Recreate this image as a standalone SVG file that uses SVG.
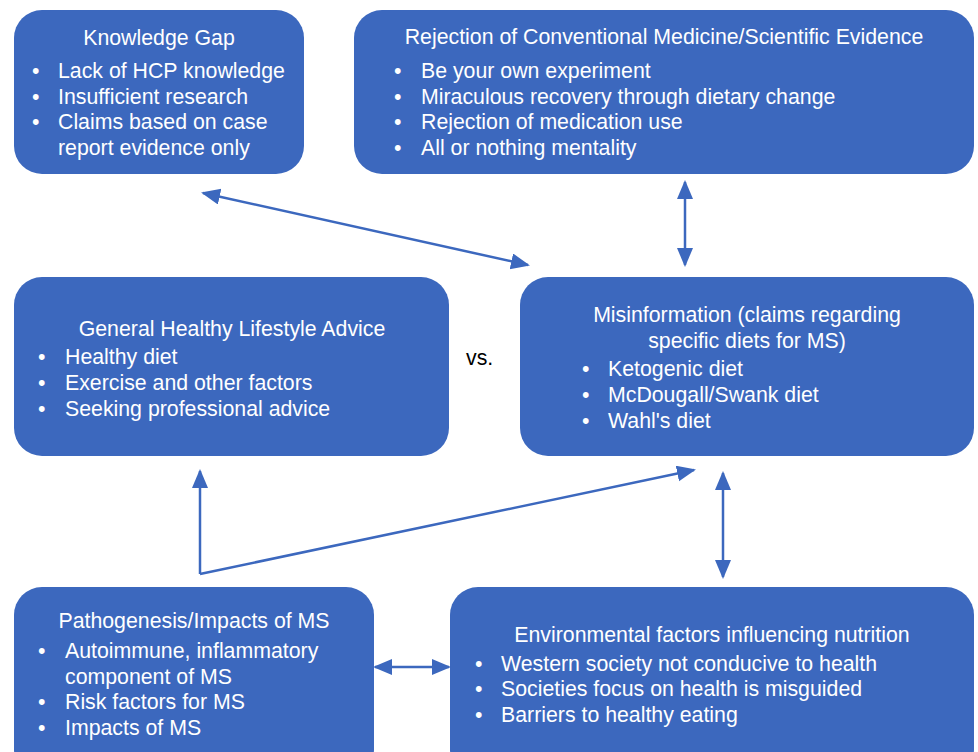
<svg xmlns="http://www.w3.org/2000/svg" width="978" height="752" viewBox="0 0 978 752">
<defs>
<style>
.box{fill:#3C68BE;}
.t{font-family:"Liberation Sans",Arial,sans-serif;font-size:21.3px;fill:#ffffff;}
.c{text-anchor:middle;}
.vs{font-family:"Liberation Sans",Arial,sans-serif;font-size:21.3px;fill:#000000;}
.ln{stroke:#3C68BE;stroke-width:2.5;fill:none;}
</style>
<marker id="ah" markerUnits="userSpaceOnUse" markerWidth="20" markerHeight="18" viewBox="0 0 20 18" refX="17" refY="8" orient="auto-start-reverse">
<path d="M0,0 L19,8 L0,16 z" fill="#3C68BE"/>
</marker>
</defs>
<rect width="978" height="752" fill="#ffffff"/>

<g id="knowledge-gap">
<rect class="box" x="14" y="10" width="290" height="164" rx="28"/>
<text class="t c" x="159" y="45">Knowledge Gap</text>
<text class="t" x="32" y="78">•</text><text class="t" x="58" y="78">Lack of HCP knowledge</text>
<text class="t" x="32" y="104">•</text><text class="t" x="58" y="104">Insufficient research</text>
<text class="t" x="32" y="129">•</text><text class="t" x="58" y="129">Claims based on case</text>
<text class="t" x="58" y="155">report evidence only</text>
</g>

<g id="rejection">
<rect class="box" x="354" y="10" width="620" height="164" rx="28"/>
<text class="t c" x="664" y="44">Rejection of Conventional Medicine/Scientific Evidence</text>
<text class="t" x="394" y="78">•</text><text class="t" x="421" y="78">Be your own experiment</text>
<text class="t" x="394" y="104">•</text><text class="t" x="421" y="104">Miraculous recovery through dietary change</text>
<text class="t" x="394" y="129">•</text><text class="t" x="421" y="129">Rejection of medication use</text>
<text class="t" x="394" y="155">•</text><text class="t" x="421" y="155">All or nothing mentality</text>
</g>

<g id="general-advice">
<rect class="box" x="14" y="277" width="435" height="179" rx="28"/>
<text class="t c" x="232" y="336">General Healthy Lifestyle Advice</text>
<text class="t" x="38" y="364">•</text><text class="t" x="65" y="364">Healthy diet</text>
<text class="t" x="38" y="390">•</text><text class="t" x="65" y="390">Exercise and other factors</text>
<text class="t" x="38" y="416">•</text><text class="t" x="65" y="416">Seeking professional advice</text>
</g>

<g id="vs">
<text class="vs" x="466" y="365">vs.</text>
</g>

<g id="misinformation">
<rect class="box" x="520" y="277" width="454" height="179" rx="28"/>
<text class="t c" x="747" y="322">Misinformation (claims regarding</text>
<text class="t c" x="747" y="348">specific diets for MS)</text>
<text class="t" x="582" y="376">•</text><text class="t" x="608" y="376">Ketogenic diet</text>
<text class="t" x="582" y="402">•</text><text class="t" x="608" y="402">McDougall/Swank diet</text>
<text class="t" x="582" y="428">•</text><text class="t" x="608" y="428">Wahl's diet</text>
</g>

<g id="pathogenesis">
<rect class="box" x="14" y="587" width="360" height="190" rx="28"/>
<text class="t c" x="194" y="628">Pathogenesis/Impacts of MS</text>
<text class="t" x="38" y="658">•</text><text class="t" x="65" y="658">Autoimmune, inflammatory</text>
<text class="t" x="65" y="684">component of MS</text>
<text class="t" x="38" y="709">•</text><text class="t" x="65" y="709">Risk factors for MS</text>
<text class="t" x="38" y="735">•</text><text class="t" x="65" y="735">Impacts of MS</text>
</g>

<g id="environmental">
<rect class="box" x="450" y="587" width="524" height="190" rx="28"/>
<text class="t c" x="712" y="642">Environmental factors influencing nutrition</text>
<text class="t" x="475" y="671">•</text><text class="t" x="501" y="671">Western society not conducive to health</text>
<text class="t" x="475" y="696">•</text><text class="t" x="501" y="696">Societies focus on health is misguided</text>
<text class="t" x="475" y="722">•</text><text class="t" x="501" y="722">Barriers to healthy eating</text>
</g>

<g id="connectors">
<line class="ln" x1="203" y1="193" x2="528" y2="265" marker-start="url(#ah)" marker-end="url(#ah)"/>
<line class="ln" x1="685" y1="182" x2="685" y2="265" marker-start="url(#ah)" marker-end="url(#ah)"/>
<polyline class="ln" points="200,574 200,471" marker-end="url(#ah)"/>
<line class="ln" x1="200" y1="574" x2="694" y2="470" marker-end="url(#ah)"/>
<line class="ln" x1="723" y1="473" x2="723" y2="577" marker-start="url(#ah)" marker-end="url(#ah)"/>
<line class="ln" x1="375" y1="667" x2="449" y2="667" marker-start="url(#ah)" marker-end="url(#ah)"/>
</g>
</svg>
